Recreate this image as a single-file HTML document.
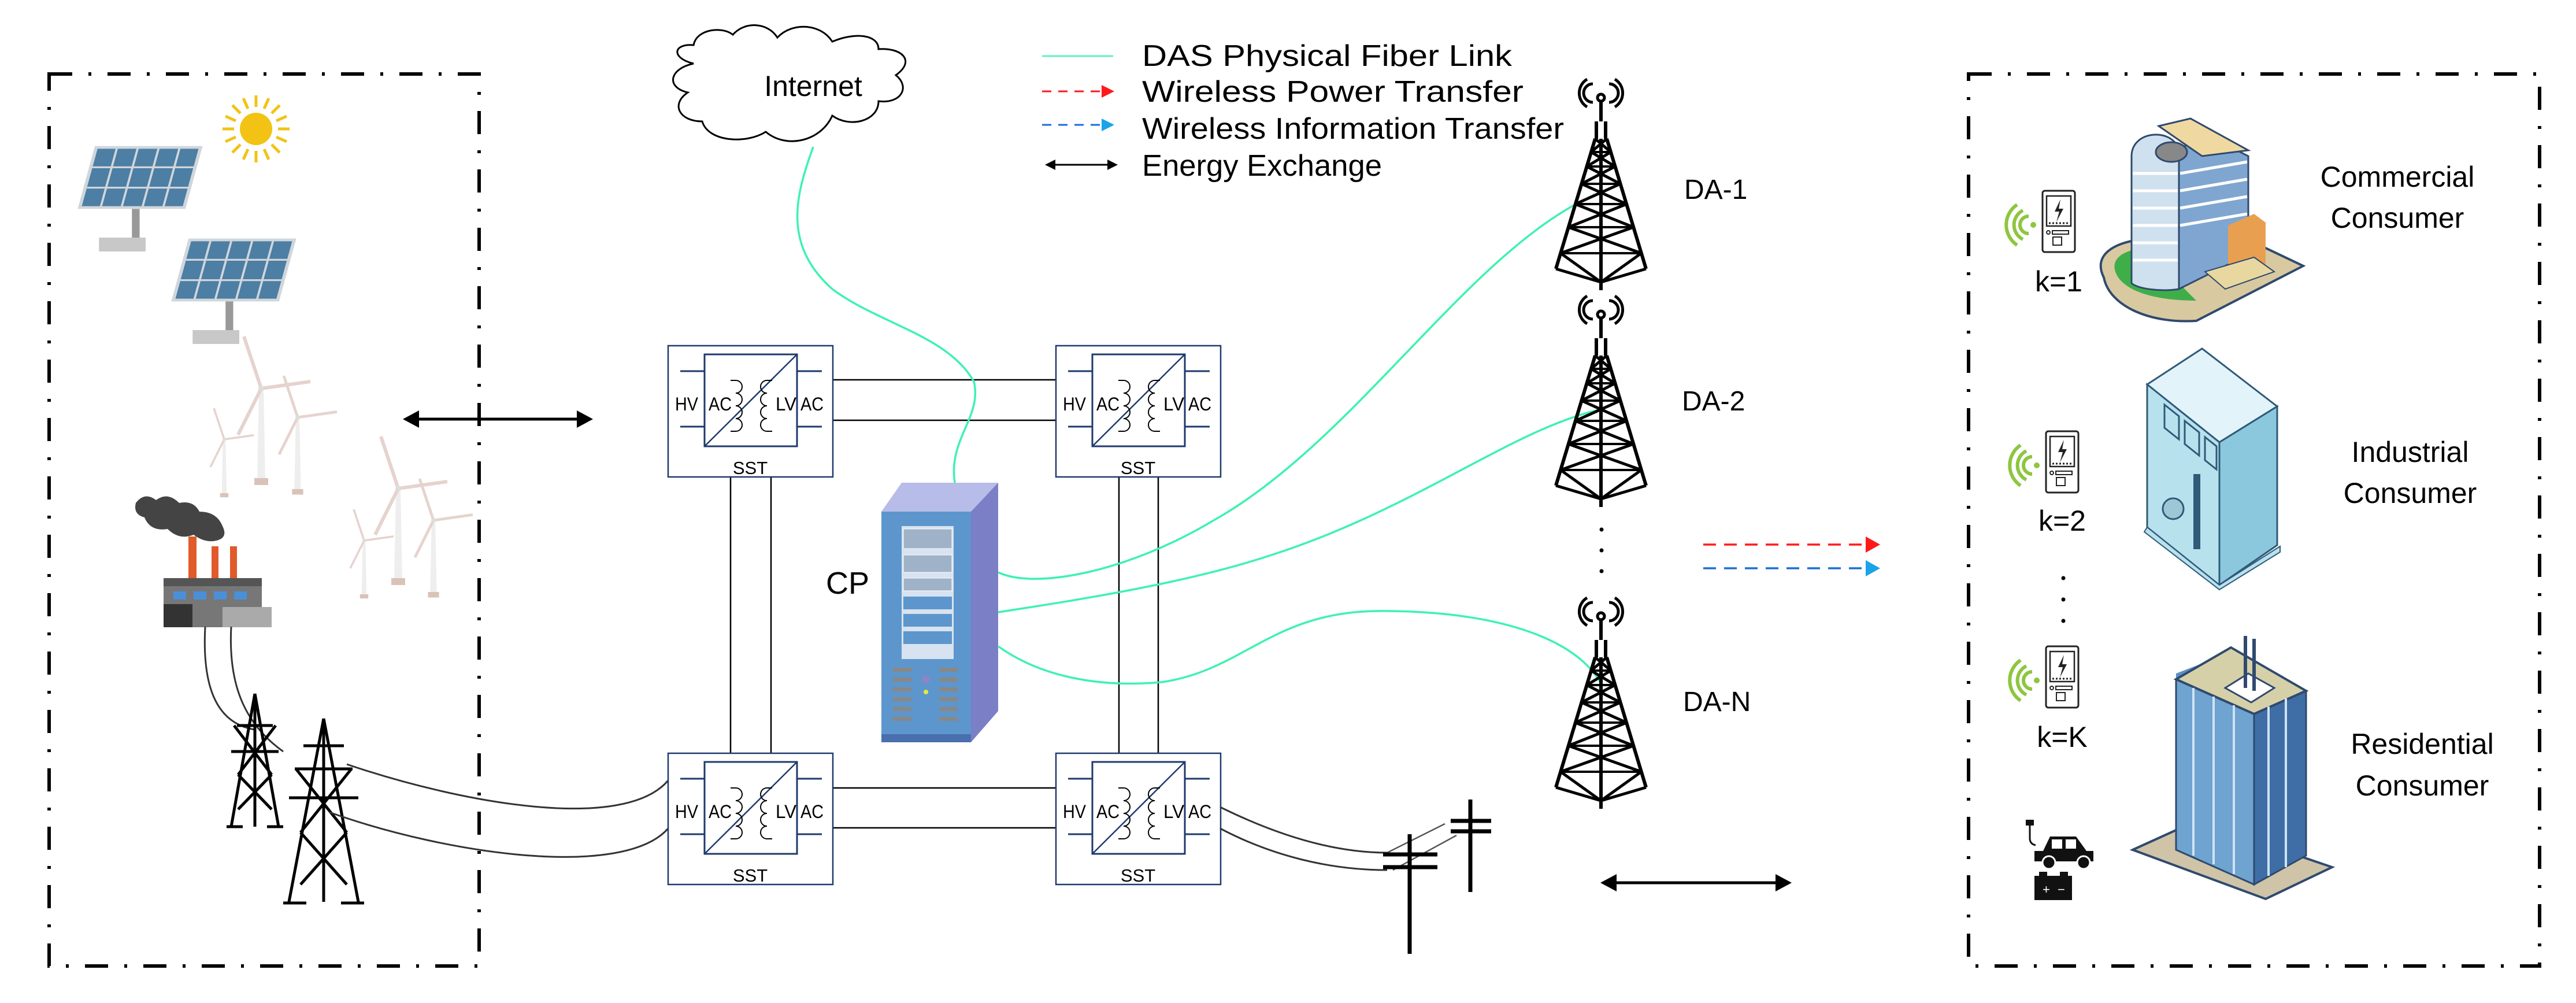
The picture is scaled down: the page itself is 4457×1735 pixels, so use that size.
<!DOCTYPE html>
<html><head><meta charset="utf-8">
<style>
html,body{margin:0;padding:0;background:#fff;}
svg{display:block;}
text{font-family:"Liberation Sans Narrow","Liberation Sans",sans-serif;fill:#000;}
</style></head>
<body>
<svg width="4457" height="1735" viewBox="0 0 4457 1735" xmlns="http://www.w3.org/2000/svg">
<defs>
<g id="tower" stroke="#000" fill="none" stroke-width="6">
  <path d="M-14,24 A16,16 0 0 1 -14,-8 M14,24 A16,16 0 0 0 14,-8 M-24,32 A28,28 0 0 1 -24,-16 M24,32 A28,28 0 0 0 24,-16" stroke-width="5"/>
  <circle cx="0" cy="16" r="6" stroke-width="5"/>
  <line x1="0" y1="22" x2="0" y2="57"/>
  <path d="M-8,57 L-8,87 M8,57 L8,87 M-10,87 L-78,312 M10,87 L78,312 M0,87 L0,349"/>
  <path d="M-10,87 L17,110 M10,87 L-17,110 M-17,110 L24.5,135 M17,110 L-24.5,135 M-24.5,135 L33.6,165 M24.5,135 L-33.6,165 M-33.6,165 L44.2,200 M33.6,165 L-44.2,200 M-44.2,200 L56.2,240 M44.2,200 L-56.2,240 M-56.2,240 L69.8,285 M56.2,240 L-69.8,285 M-69.8,285 L0,335 L69.8,285 M-78,312 L0,335 L78,312" stroke-width="5"/>
  <path d="M-17,110 L17,110 M-24.5,135 L24.5,135 M-33.6,165 L33.6,165 M-44.2,200 L44.2,200 M-56.2,240 L56.2,240 M-69.8,285 L69.8,285" stroke-width="4"/>
</g>
<g id="sst">
  <rect x="0" y="0" width="285" height="227" fill="#fff" stroke="#1f3a6e" stroke-width="2.5"/>
  <rect x="63" y="15" width="160" height="159" fill="none" stroke="#1f3a6e" stroke-width="3"/>
  <line x1="63" y1="174" x2="223" y2="15" stroke="#1f3a6e" stroke-width="2.5"/>
  <path d="M21,44 H63 M21,140 H63 M223,44 H266 M223,140 H266" stroke="#1f3a6e" stroke-width="3"/>
  <path d="M108,60 H117 a11,11 0 0 1 0,22 a11,11 0 0 1 0,22 a11,11 0 0 1 0,22 a11,11 0 0 1 0,22 H108 M180,60 H171 a11,11 0 0 0 0,22 a11,11 0 0 0 0,22 a11,11 0 0 0 0,22 a11,11 0 0 0 0,22 H180" fill="none" stroke="#000" stroke-width="2"/>
  <text x="12" y="112" font-size="32" textLength="40" lengthAdjust="spacingAndGlyphs">HV</text>
  <text x="70" y="112" font-size="32" textLength="40" lengthAdjust="spacingAndGlyphs">AC</text>
  <text x="186" y="112" font-size="32" textLength="36" lengthAdjust="spacingAndGlyphs">LV</text>
  <text x="229" y="112" font-size="32" textLength="40" lengthAdjust="spacingAndGlyphs">AC</text>
  <text x="142" y="222" font-size="31" text-anchor="middle">SST</text>
</g>
<g id="phone">
  <path d="M-52,22 a15,15 0 0 1 0,-30 M-62,32 a28,28 0 0 1 0,-50 M-72,42 a42,42 0 0 1 0,-70" fill="none" stroke="#8dc63f" stroke-width="6"/>
  <circle cx="-44" cy="7" r="5" fill="#8dc63f"/>
  <rect x="-28" y="-52" width="56" height="106" rx="4" fill="#fff" stroke="#222" stroke-width="3"/>
  <rect x="-21" y="-43" width="42" height="52" fill="none" stroke="#222" stroke-width="2.5"/>
  <path d="M3,-37 L-7,-16 L1,-16 L-4,2 L8,-21 L0,-21 Z" fill="#222"/>
  <path d="M-17,4 H17" stroke="#222" stroke-width="3" stroke-dasharray="3 3"/>
  <circle cx="-18" cy="20" r="3" fill="none" stroke="#222" stroke-width="2"/>
  <rect x="-11" y="17" width="28" height="6" fill="none" stroke="#222" stroke-width="2"/>
  <rect x="-10" y="28" width="15" height="14" fill="none" stroke="#222" stroke-width="2"/>
</g>
<g id="turbine">
  <path d="M-4,0 L4,0 L7,160 L-7,160 Z" fill="#eeeeee"/>
  <path d="M0,0 L-30,-90" stroke-width="6" stroke="#e6d3cd"/>
  <path d="M0,0 L85,-12" stroke-width="6" stroke="#e6d3cd"/>
  <path d="M0,0 L-40,80" stroke-width="6" stroke="#e6d3cd"/>
  <circle cx="0" cy="0" r="5" fill="#ddd"/>
  <rect x="-12" y="155" width="24" height="12" fill="#d9c3b8"/>
</g>
<g id="panel">
  <path d="M30,0 L220,0 L190,130 L0,130 Z" fill="#4d7ea3" stroke="#cfd6dc" stroke-width="6"/>
  <path d="M68,0 L38,130 M106,0 L76,130 M144,0 L114,130 M182,0 L152,130 M23,43 L210,43 M13,87 L200,87" stroke="#cfd6dc" stroke-width="4"/>
  <rect x="95" y="133" width="14" height="65" fill="#999"/>
  <rect x="35" y="195" width="85" height="30" fill="#c8c8c8"/>
</g>
</defs>

<!-- dashed boxes -->
<rect x="85" y="128" width="744" height="1543" fill="none" stroke="#000" stroke-width="6" stroke-dasharray="40 28 5 28"/>
<rect x="3406" y="128" width="988" height="1543" fill="none" stroke="#000" stroke-width="6" stroke-dasharray="40 28 5 28"/>

<!-- left: solar -->
<g transform="translate(138,255) scale(0.95,0.8)"><use href="#panel"/></g>
<g transform="translate(300,415) scale(0.95,0.8)"><use href="#panel"/></g>
<g transform="translate(443,223)">
  <circle r="28" fill="#f2c314"/>
  <g stroke="#f2c314" stroke-width="5">
    <line x1="0" y1="-38" x2="0" y2="-58"/><line x1="0" y1="38" x2="0" y2="58"/><line x1="-38" y1="0" x2="-58" y2="0"/><line x1="38" y1="0" x2="58" y2="0"/>
    <line x1="27" y1="27" x2="41" y2="41"/><line x1="-27" y1="27" x2="-41" y2="41"/><line x1="27" y1="-27" x2="41" y2="-41"/><line x1="-27" y1="-27" x2="-41" y2="-41"/>
    <line x1="14" y1="-35" x2="22" y2="-53"/><line x1="-14" y1="35" x2="-22" y2="53"/><line x1="35" y1="14" x2="53" y2="22"/><line x1="-35" y1="-14" x2="-53" y2="-22"/>
    <line x1="-14" y1="-35" x2="-22" y2="-53"/><line x1="14" y1="35" x2="22" y2="53"/><line x1="35" y1="-14" x2="53" y2="-22"/><line x1="-35" y1="14" x2="-53" y2="22"/>
  </g>
</g>
<!-- turbines -->
<g transform="translate(452,672)"><use href="#turbine"/></g>
<g transform="translate(388,760) scale(0.6)"><use href="#turbine"/></g>
<g transform="translate(515,722) scale(0.8)"><use href="#turbine"/></g>
<g transform="translate(689,845)"><use href="#turbine"/></g>
<g transform="translate(630,935) scale(0.6)"><use href="#turbine"/></g>
<g transform="translate(750,900) scale(0.8)"><use href="#turbine"/></g>
<!-- factory -->
<g>
  <path d="M235,870 q15,-20 35,-5 q20,-15 40,5 q25,-5 35,15 q30,0 40,25 q10,20 -10,25 q-20,5 -40,-10 q-25,10 -45,-10 q-30,5 -40,-20 q-20,-5 -15,-25z" fill="#444"/>
  <rect x="326" y="928" width="14" height="75" fill="#e05a2b"/>
  <rect x="366" y="945" width="12" height="58" fill="#e05a2b"/>
  <rect x="398" y="945" width="12" height="58" fill="#e05a2b"/>
  <rect x="283" y="1000" width="170" height="85" fill="#777"/>
  <rect x="283" y="1000" width="170" height="14" fill="#555"/>
  <rect x="300" y="1023" width="22" height="14" fill="#4a90d9"/><rect x="335" y="1023" width="22" height="14" fill="#4a90d9"/><rect x="370" y="1023" width="22" height="14" fill="#4a90d9"/><rect x="405" y="1023" width="22" height="14" fill="#4a90d9"/>
  <rect x="283" y="1045" width="50" height="40" fill="#333"/>
  <rect x="385" y="1050" width="85" height="35" fill="#aaa"/>
</g>
<path d="M355,1084 C350,1180 370,1250 440,1262" fill="none" stroke="#333" stroke-width="3"/>
<path d="M400,1084 C395,1180 420,1250 490,1300" fill="none" stroke="#333" stroke-width="3"/>
<!-- pylons -->
<g stroke="#000" stroke-width="5" fill="none">
  <path d="M441,1200 L400,1430 M441,1200 L482,1430 M441,1200 L441,1430 M410,1255 L472,1255 M400,1300 L482,1300 M405,1255 L470,1340 M477,1255 L412,1340 M412,1340 L470,1400 M470,1340 L412,1400 M392,1430 L420,1430 M462,1430 L490,1430"/>
  <path d="M560,1243 L500,1560 M560,1243 L620,1560 M560,1243 L560,1560 M510,1330 L610,1330 M500,1380 L620,1380 M512,1330 L600,1440 M608,1330 L520,1440 M520,1440 L600,1530 M600,1440 L520,1530 M490,1562 L530,1562 M590,1562 L630,1562 M525,1290 L595,1290"/>
</g>
<path d="M600,1322 C800,1390 1080,1440 1156,1350" fill="none" stroke="#333" stroke-width="3"/>
<path d="M570,1405 C780,1480 1080,1520 1156,1433" fill="none" stroke="#333" stroke-width="3"/>
<line x1="712" y1="725" x2="1010" y2="725" stroke="#000" stroke-width="5"/>
<path d="M697,725 L725,710 L725,740 Z M1026,725 L998,710 L998,740 Z" fill="#000"/>

<!-- SST connections -->
<path d="M1441,657 H1827 M1441,727 H1827 M1441,1363 H1827 M1441,1432 H1827 M1264,825 V1303 M1334,825 V1303 M1936,825 V1303 M2004,825 V1303" stroke="#000" stroke-width="2.5"/>
<use href="#sst" x="1156" y="598"/>
<use href="#sst" x="1827" y="598"/>
<use href="#sst" x="1156" y="1303"/>
<use href="#sst" x="1827" y="1303"/>

<!-- cloud -->
<path d="M1200,110 C1160,100 1165,75 1200,78 C1205,50 1250,45 1268,60 C1290,35 1330,40 1345,65 C1370,38 1420,40 1440,72 C1480,55 1520,60 1520,85 C1560,82 1585,105 1550,130 C1575,150 1560,180 1520,175 C1520,210 1470,222 1440,200 C1420,245 1360,258 1325,228 C1290,250 1225,245 1215,210 C1175,210 1160,180 1190,160 C1150,150 1160,118 1200,110 Z" fill="#fff" stroke="#000" stroke-width="3"/>
<text x="1407" y="166" font-size="50" text-anchor="middle">Internet</text>

<!-- legend -->
<line x1="1803" y1="97" x2="1926" y2="97" stroke="#5ff2c0" stroke-width="3"/>
<line x1="1803" y1="158" x2="1912" y2="158" stroke="#ff1a1a" stroke-width="3" stroke-dasharray="16 12"/>
<path d="M1928,158 L1906,147 L1906,169 Z" fill="#ff1a1a"/>
<line x1="1803" y1="216" x2="1912" y2="216" stroke="#1a6fd6" stroke-width="3" stroke-dasharray="16 12"/>
<path d="M1928,216 L1906,205 L1906,227 Z" fill="#1aa3e8"/>
<line x1="1822" y1="285" x2="1920" y2="285" stroke="#000" stroke-width="3"/>
<path d="M1808,285 L1826,276 L1826,294 Z M1934,285 L1916,276 L1916,294 Z" fill="#000"/>
<g font-size="52">
<text x="1976" y="114" textLength="640" lengthAdjust="spacingAndGlyphs">DAS Physical Fiber Link</text>
<text x="1976" y="176" textLength="660" lengthAdjust="spacingAndGlyphs">Wireless Power Transfer</text>
<text x="1976" y="240" textLength="730" lengthAdjust="spacingAndGlyphs">Wireless Information Transfer</text>
<text x="1976" y="304" textLength="415" lengthAdjust="spacingAndGlyphs">Energy Exchange</text>
</g>

<!-- server -->
<g>
  <path d="M1525,885 L1560,835 L1727,835 L1680,885 Z" fill="#b7bce8"/>
  <path d="M1680,885 L1727,835 L1727,1230 L1680,1284 Z" fill="#7a7fc6"/>
  <rect x="1525" y="885" width="155" height="399" fill="#5d96cc"/>
  <rect x="1525" y="1270" width="155" height="14" fill="#4a6fae"/>
  <rect x="1560" y="910" width="90" height="230" fill="#d7e3f0"/>
  <rect x="1563" y="915" width="84" height="34" fill="#9fb2c8" stroke="#fff"/>
  <rect x="1563" y="960" width="84" height="30" fill="#9fb2c8" stroke="#fff"/>
  <rect x="1563" y="1000" width="84" height="22" fill="#9fb2c8" stroke="#fff"/>
  <rect x="1563" y="1032" width="84" height="22" fill="#5d96cc"/>
  <rect x="1563" y="1062" width="84" height="22" fill="#5d96cc"/>
  <rect x="1563" y="1092" width="84" height="22" fill="#5d96cc"/>
  <g fill="#888"><rect x="1545" y="1155" width="32" height="7"/><rect x="1545" y="1172" width="32" height="7"/><rect x="1545" y="1189" width="32" height="7"/><rect x="1545" y="1206" width="32" height="7"/><rect x="1545" y="1223" width="32" height="7"/><rect x="1545" y="1240" width="32" height="7"/>
  <rect x="1625" y="1155" width="32" height="7"/><rect x="1625" y="1172" width="32" height="7"/><rect x="1625" y="1189" width="32" height="7"/><rect x="1625" y="1206" width="32" height="7"/><rect x="1625" y="1223" width="32" height="7"/><rect x="1625" y="1240" width="32" height="7"/></g>
  <circle cx="1602" cy="1175" r="7" fill="#8a86c6"/>
  <circle cx="1602" cy="1197" r="4" fill="#e8e83a"/>
</g>
<text x="1429" y="1027" font-size="54">CP</text>

<!-- fiber lines -->
<g fill="none" stroke="#3df2b0" stroke-width="3.5">
  <path d="M1407,254 C1380,330 1350,420 1440,500 C1520,560 1640,580 1685,660 C1700,720 1640,760 1652,835"/>
  <path d="M1727,990 C1790,1020 1950,990 2100,900 C2350,760 2550,420 2771,332"/>
  <path d="M1727,1059 C1850,1040 2050,1010 2200,960 C2450,880 2620,740 2771,708"/>
  <path d="M1727,1118 C1800,1170 1900,1190 2010,1180 C2150,1160 2200,1060 2380,1057 C2550,1055 2720,1090 2771,1184"/>
</g>

<!-- towers -->
<use href="#tower" x="2770" y="153"/>
<use href="#tower" x="2770" y="528"/>
<use href="#tower" x="2770" y="1050"/>
<g fill="#000"><circle cx="2771" cy="916" r="3.5"/><circle cx="2771" cy="952" r="3.5"/><circle cx="2771" cy="988" r="3.5"/></g>
<g font-size="48">
<text x="2914" y="344">DA-1</text>
<text x="2910" y="710">DA-2</text>
<text x="2912" y="1230">DA-N</text>
</g>

<line x1="2947" y1="942" x2="3230" y2="942" stroke="#ff1a1a" stroke-width="3.5" stroke-dasharray="22 14"/>
<path d="M3253,942 L3228,928 L3228,956 Z" fill="#ff1a1a"/>
<line x1="2947" y1="983" x2="3230" y2="983" stroke="#1a6fd6" stroke-width="3.5" stroke-dasharray="22 14"/>
<path d="M3253,983 L3228,969 L3228,997 Z" fill="#1aa3e8"/>

<!-- poles -->
<path d="M2111,1396 C2200,1440 2300,1475 2400,1475" fill="none" stroke="#333" stroke-width="3"/>
<path d="M2111,1433 C2200,1480 2300,1505 2400,1505" fill="none" stroke="#333" stroke-width="3"/>
<path d="M2400,1475 L2500,1425 M2410,1505 L2520,1445" fill="none" stroke="#555" stroke-width="2.5"/>
<g stroke="#000" stroke-width="7" fill="none">
  <path d="M2439,1443 V1650 M2393,1478 H2487 M2393,1500 H2487 M2544,1383 V1543 M2510,1420 H2580 M2510,1438 H2580"/>
</g>
<line x1="2784" y1="1527" x2="3085" y2="1527" stroke="#000" stroke-width="5"/>
<path d="M2769,1527 L2797,1512 L2797,1542 Z M3100,1527 L3072,1512 L3072,1542 Z" fill="#000"/>

<!-- consumers -->
<use href="#phone" x="3562" y="382"/>
<use href="#phone" x="3568" y="798"/>
<use href="#phone" x="3568" y="1170"/>
<g font-size="50">
<text x="3562" y="504" text-anchor="middle">k=1</text>
<text x="3568" y="918" text-anchor="middle">k=2</text>
<text x="3568" y="1292" text-anchor="middle">k=K</text>
</g>
<g fill="#000"><circle cx="3570" cy="1000" r="3.5"/><circle cx="3570" cy="1037" r="3.5"/><circle cx="3570" cy="1074" r="3.5"/></g>
<g>
  <path d="M3520,1472 h15 l12,-25 h45 l18,25 h12 v18 h-102 z" fill="#111"/>
  <rect x="3550" y="1452" width="18" height="16" fill="#fff"/><rect x="3574" y="1452" width="18" height="16" fill="#fff"/>
  <circle cx="3545" cy="1492" r="11" fill="#111" stroke="#fff" stroke-width="3"/>
  <circle cx="3605" cy="1492" r="11" fill="#111" stroke="#fff" stroke-width="3"/>
  <path d="M3512,1425 v25 q0,10 10,12" fill="none" stroke="#111" stroke-width="3"/>
  <rect x="3505" y="1418" width="14" height="10" fill="#111"/>
  <rect x="3520" y="1515" width="65" height="42" fill="#111"/>
  <rect x="3528" y="1508" width="14" height="8" fill="#111"/><rect x="3564" y="1508" width="14" height="8" fill="#111"/>
  <text x="3534" y="1546" font-size="22" style="fill:#fff">+</text><text x="3560" y="1546" font-size="22" style="fill:#fff">−</text>
</g>
<!-- commercial building -->
<g>
  <path d="M3640,480 C3620,440 3660,420 3700,415 L3880,410 L3985,460 L3800,555 C3720,560 3650,530 3640,480 Z" fill="#d8c9a0" stroke="#2f4a6e" stroke-width="4"/>
  <path d="M3660,470 C3650,440 3690,430 3710,430 L3800,520 C3720,520 3670,500 3660,470 Z" fill="#3fae49"/>
  <path d="M3688,270 C3688,225 3760,220 3770,260 L3770,500 C3740,505 3700,500 3688,490 Z" fill="#cfe0ee" stroke="#2f4a6e" stroke-width="3"/>
  <path d="M3770,260 L3810,230 L3890,270 L3890,440 L3770,500 Z" fill="#7fa6d0" stroke="#2f4a6e" stroke-width="3"/>
  <path d="M3735,218 L3790,205 L3890,260 L3810,270 Z" fill="#f0d9a0" stroke="#2f4a6e" stroke-width="3"/>
  <ellipse cx="3757" cy="263" rx="27" ry="17" fill="#888" stroke="#2f4a6e" stroke-width="3"/>
  <g stroke="#fff" stroke-width="5"><path d="M3690,300 H3768 M3690,330 H3768 M3690,360 H3768 M3690,390 H3768 M3690,420 H3768 M3690,450 H3768 M3772,300 L3888,280 M3772,330 L3888,310 M3772,360 L3888,340 M3772,390 L3888,370"/></g>
  <path d="M3855,390 L3900,370 L3920,385 L3920,460 L3855,480 Z" fill="#e8a050"/>
  <path d="M3815,470 L3900,445 L3935,470 L3850,500 Z" fill="#e8d8a0" stroke="#2f4a6e" stroke-width="2"/>
</g>
<g font-size="50" text-anchor="middle">
<text x="4148" y="323">Commercial</text>
<text x="4148" y="394">Consumer</text>
<text x="4170" y="799">Industrial</text>
<text x="4170" y="870">Consumer</text>
<text x="4191" y="1304">Residential</text>
<text x="4191" y="1376">Consumer</text>
</g>
<!-- industrial building -->
<g>
  <path d="M3715,665 L3810,603 L3940,703 L3840,765 Z" fill="#e2f3fa" stroke="#2f5a78" stroke-width="3"/>
  <path d="M3715,665 L3840,765 L3840,1012 L3715,912 Z" fill="#b8e1ee" stroke="#2f5a78" stroke-width="3"/>
  <path d="M3840,765 L3940,703 L3940,943 L3840,1012 Z" fill="#8cc8dd" stroke="#2f5a78" stroke-width="3"/>
  <path d="M3745,700 l25,20 v40 l-25,-20z M3780,728 l25,20 v40 l-25,-20z M3815,756 l20,16 v40 l-20,-16z" fill="none" stroke="#2f5a78" stroke-width="3"/>
  <rect x="3795" y="820" width="12" height="130" fill="#2f5a78"/>
  <circle cx="3760" cy="880" r="18" fill="#9fc6d6" stroke="#2f5a78" stroke-width="3"/>
  <path d="M3715,912 L3840,1012 L3945,945 L3945,955 L3840,1020 L3710,920 Z" fill="#b8e1ee" stroke="#2f5a78" stroke-width="2"/>
</g>
<!-- residential building -->
<g>
  <path d="M3690,1470 L3800,1420 L4035,1500 L3920,1555 Z" fill="#cfc3a8" stroke="#2f4a6e" stroke-width="4"/>
  <path d="M3765,1165 L3830,1140 L3830,1470 L3765,1445 Z" fill="#5e8fc0"/>
  <path d="M3765,1175 L3900,1235 L3900,1530 L3765,1470 Z" fill="#6fa3d0" stroke="#2f4a6e" stroke-width="3"/>
  <path d="M3900,1235 L3990,1195 L3990,1480 L3900,1530 Z" fill="#3f6ea6" stroke="#2f4a6e" stroke-width="3"/>
  <path d="M3765,1175 L3860,1120 L3990,1195 L3900,1235 Z" fill="#d6d0a8" stroke="#2f4a6e" stroke-width="4"/>
  <path d="M3850,1190 L3890,1165 L3935,1190 L3895,1215 Z" fill="#fff" stroke="#2f4a6e" stroke-width="3"/>
  <path d="M3885,1100 V1190 M3900,1105 V1195" stroke="#2f4a6e" stroke-width="6"/>
  <g stroke="#cfe3f3" stroke-width="4"><path d="M3795,1190 V1480 M3830,1205 V1495 M3865,1220 V1512 M3925,1222 V1515 M3955,1208 V1500"/></g>
</g>
</svg>
</body></html>
